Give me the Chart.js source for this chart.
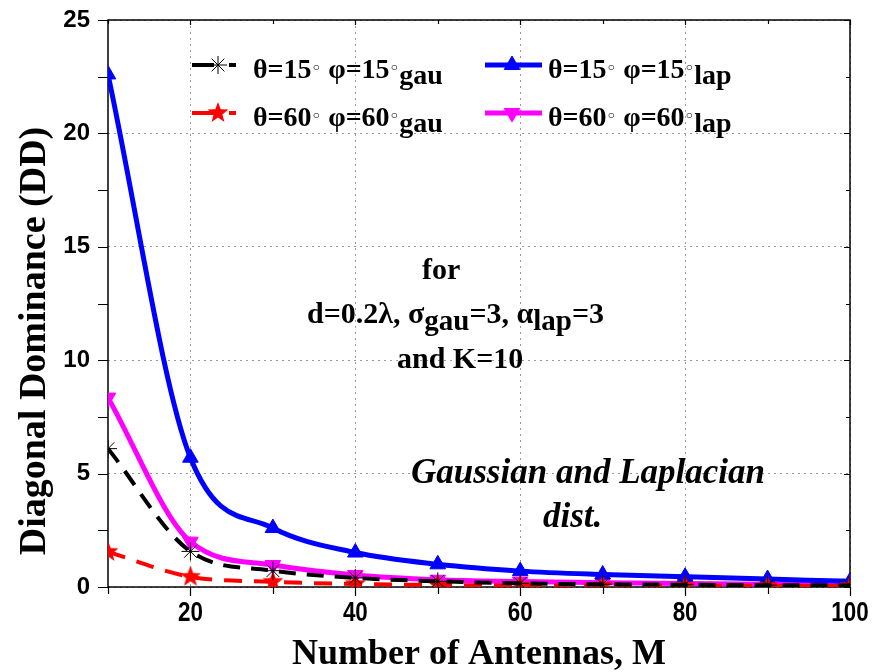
<!DOCTYPE html>
<html>
<head>
<meta charset="utf-8">
<script src="https://cdn.jsdelivr.net/npm/chart.js@4.4.0/dist/chart.umd.min.js"></script>
<style>
  html, body { margin: 0; padding: 0; background: #fff; }
  canvas { display: block; }
</style>
</head>
<body>
<canvas id="dd" width="875" height="672"></canvas>
<script>
// number of antennas M
const antennas = [10, 20, 30, 40, 50, 60, 70, 80, 90, 100];
// diagonal dominance, gaussian / laplacian angular spread
const gau15 = [6.1, 1.57, 0.72, 0.4, 0.25, 0.16, 0.12, 0.1, 0.08, 0.07];
const gau60 = [1.55, 0.45, 0.23, 0.13, 0.09, 0.07, 0.06, 0.05, 0.05, 0.04];
const lap15 = [22.6, 5.7, 2.6, 1.52, 1.0, 0.7, 0.55, 0.45, 0.35, 0.25];
const lap60 = [8.35, 2.0, 0.97, 0.53, 0.32, 0.24, 0.19, 0.15, 0.12, 0.1];

const xTicks = [20, 40, 60, 80, 100];
const yTicks = [0, 5, 10, 15, 20, 25];
const xMinor = [10, 30, 50, 70, 90];
const yMinor = [2.5, 7.5, 12.5, 17.5, 22.5];

const SERIF = '"Liberation Serif", "Times New Roman", serif';
const B30 = 'bold 30px ' + SERIF;
const SUB30 = 'bold 29px ' + SERIF;
const B28 = 'bold 28px ' + SERIF;
const SUB28 = 'bold 28px ' + SERIF;
const RING = 'bold 15px "DejaVu Sans"';

function starImage(color, r) {
  const c = document.createElement('canvas');
  c.width = c.height = Math.ceil(r * 2 + 2);
  const g = c.getContext('2d');
  g.translate(c.width / 2, c.height / 2);
  g.beginPath();
  for (let i = 0; i < 10; i++) {
    const rad = i % 2 ? r * 0.42 : r;
    const a = -Math.PI / 2 + i * Math.PI / 5;
    g.lineTo(rad * Math.cos(a), rad * Math.sin(a));
  }
  g.closePath();
  g.fillStyle = color;
  g.fill();
  return c;
}
const redStar = starImage('#ff0000', 11);

const series = [
  { label: 'gau15', data: gau15, color: '#000000', dash: [17, 11], width: 4,
    point: { pointStyle: 'star', radius: 9, borderWidth: 1, rotation: 0 } },
  { label: 'gau60', data: gau60, color: '#ff0000', dash: [18, 12], width: 4,
    point: { pointStyle: redStar, radius: 11, borderWidth: 0, rotation: 0 } },
  { label: 'lap15', data: lap15, color: '#0000ff', dash: [], width: 5,
    point: { pointStyle: 'triangle', radius: 9, borderWidth: 1, rotation: 0 } },
  { label: 'lap60', data: lap60, color: '#ff00ff', dash: [], width: 5,
    point: { pointStyle: 'triangle', radius: 9, borderWidth: 1, rotation: 180 } },
];

function richText(ctx, x, y, parts) {
  for (const [t, f, dy] of parts) {
    ctx.font = f;
    ctx.fillText(t, x, y + dy);
    x += ctx.measureText(t).width;
  }
  return x;
}

function angleLabel(deg, sub) {
  return [
    ['\u03b8=' + deg, B28, 0], ['\u25e6', RING, -5],
    [' \u03c6=' + deg, B28, 0], ['\u25e6', RING, -5],
    [sub, SUB28, 6],
  ];
}

const legendItems = [
  { s: 0, x: 192, y: 65, len: 54, mx: 218, text: angleLabel(15, 'gau'), tx: 253 },
  { s: 1, x: 192, y: 113, len: 54, mx: 218, text: angleLabel(60, 'gau'), tx: 253 },
  { s: 2, x: 485, y: 65, len: 57, mx: 512, text: angleLabel(15, 'lap'), tx: 548 },
  { s: 3, x: 485, y: 113, len: 57, mx: 512, text: angleLabel(60, 'lap'), tx: 548 },
];

const framePlugin = {
  id: 'frame',
  beforeDatasetsDraw(chart) {
    const { ctx, chartArea: a, scales: { x, y } } = chart;
    ctx.save();
    ctx.strokeStyle = '#000';
    ctx.lineWidth = 1.5;
    ctx.strokeRect(a.left, a.top, a.right - a.left, a.bottom - a.top);
    ctx.lineWidth = 1.2;
    ctx.beginPath();
    for (const v of xTicks.concat(xMinor)) {
      const px = Math.round(x.getPixelForValue(v)) + 0.5;
      const major = xTicks.includes(v);
      ctx.moveTo(px, a.bottom); ctx.lineTo(px, a.bottom + (major ? 9 : 7));
      ctx.moveTo(px, a.top); ctx.lineTo(px, a.top + (major ? 5 : 4));
    }
    for (const v of yTicks.concat(yMinor)) {
      const py = Math.round(y.getPixelForValue(v)) + 0.5;
      const major = yTicks.includes(v);
      ctx.moveTo(a.left, py); ctx.lineTo(a.left - 10, py);
      ctx.moveTo(a.right, py); ctx.lineTo(a.right - (major ? 6 : 4), py);
    }
    ctx.stroke();

    // x tick labels, condensed bold sans
    ctx.fillStyle = '#000';
    ctx.font = 'bold 28px "Liberation Sans", Arial, sans-serif';
    ctx.textAlign = 'center';
    ctx.textBaseline = 'alphabetic';
    for (const v of xTicks) {
      ctx.save();
      ctx.translate(x.getPixelForValue(v), a.bottom + 34);
      ctx.scale(0.8, 1);
      ctx.fillText(String(v), 0, 0);
      ctx.restore();
    }
    ctx.restore();
  },
  afterDraw(chart) {
    const { ctx, chartArea: a } = chart;
    ctx.save();
    ctx.fillStyle = '#000';
    ctx.textBaseline = 'alphabetic';

    // legend
    for (const it of legendItems) {
      const s = series[it.s];
      ctx.save();
      ctx.strokeStyle = s.color;
      ctx.lineWidth = s.width;
      ctx.setLineDash(s.dash.length ? [22, 15, 7, 20] : []);
      ctx.beginPath();
      ctx.moveTo(it.x, it.y);
      ctx.lineTo(it.x + it.len, it.y);
      ctx.stroke();
      ctx.setLineDash([]);
      ctx.fillStyle = s.color;
      ctx.lineWidth = s.point.borderWidth;
      Chart.helpers.drawPoint(ctx, s.point, it.mx, it.y);
      ctx.restore();
      richText(ctx, it.tx, it.y + 13, it.text);
    }

    // parameter note
    ctx.textAlign = 'left';
    ctx.font = B30;
    ctx.fillText('for', 422, 279);
    richText(ctx, 307, 323, [
      ['d=0.2\u03bb, \u03c3', B30, 0], ['gau', SUB30, 7],
      ['=3, \u03b1', B30, 0], ['lap', SUB30, 7], ['=3', B30, 0],
    ]);
    ctx.font = B30;
    ctx.fillText('and K=10', 397, 368);

    ctx.font = 'italic bold 35px ' + SERIF;
    ctx.fillText('Gaussian and Laplacian', 411, 483);
    ctx.fillText('dist.', 543, 527);

    // axis titles
    ctx.textAlign = 'center';
    ctx.font = 'bold 36px ' + SERIF;
    ctx.fillText('Number of Antennas, M', (a.left + a.right) / 2, 664);
    ctx.font = 'bold 38px ' + SERIF;
    ctx.translate(35, 341);
    ctx.rotate(-Math.PI / 2);
    ctx.textBaseline = 'middle';
    ctx.fillText('Diagonal Dominance (DD)', 0, 0);
    ctx.restore();
  },
};

new Chart(document.getElementById('dd'), {
  type: 'line',
  data: {
    labels: antennas,
    datasets: series.map(s => ({
      label: s.label,
      data: antennas.map((m, i) => ({ x: m, y: s.data[i] })),
      borderColor: s.color,
      backgroundColor: s.color,
      borderWidth: s.width,
      borderDash: s.dash,
      cubicInterpolationMode: 'monotone',
      pointStyle: s.point.pointStyle,
      pointRadius: s.point.radius,
      pointBorderWidth: s.point.borderWidth,
      pointRotation: s.point.rotation,
      pointBackgroundColor: s.color,
      pointBorderColor: s.color,
      fill: false,
    })),
  },
  options: {
    responsive: false,
    animation: false,
    devicePixelRatio: 1,
    layout: { padding: { left: 0, top: 20, right: 25, bottom: 0 } },
    plugins: { legend: { display: false }, tooltip: { enabled: false } },
    scales: {
      x: {
        type: 'linear',
        min: 10,
        max: 100,
        afterBuildTicks(s) { s.ticks = xTicks.map(v => ({ value: v })); },
        afterFit(s) { s.height = 85; s.paddingLeft = 0; s.paddingRight = 0; },
        grid: { color: '#999', lineWidth: 1, drawTicks: false },
        border: { display: false, dash: [2, 4] },
        ticks: { display: false },
      },
      y: {
        min: 0,
        max: 25,
        afterBuildTicks(s) { s.ticks = yTicks.map(v => ({ value: v })); },
        afterFit(s) { s.width = 108; s.paddingTop = 0; s.paddingBottom = 0; },
        grid: { color: '#999', lineWidth: 1, drawTicks: false },
        border: { display: false, dash: [2, 4] },
        ticks: {
          color: '#000',
          padding: 18,
          font: { family: '"Liberation Sans", Arial, sans-serif', size: 24, weight: 'bold' },
        },
      },
    },
  },
  plugins: [framePlugin],
});
</script>
</body>
</html>
